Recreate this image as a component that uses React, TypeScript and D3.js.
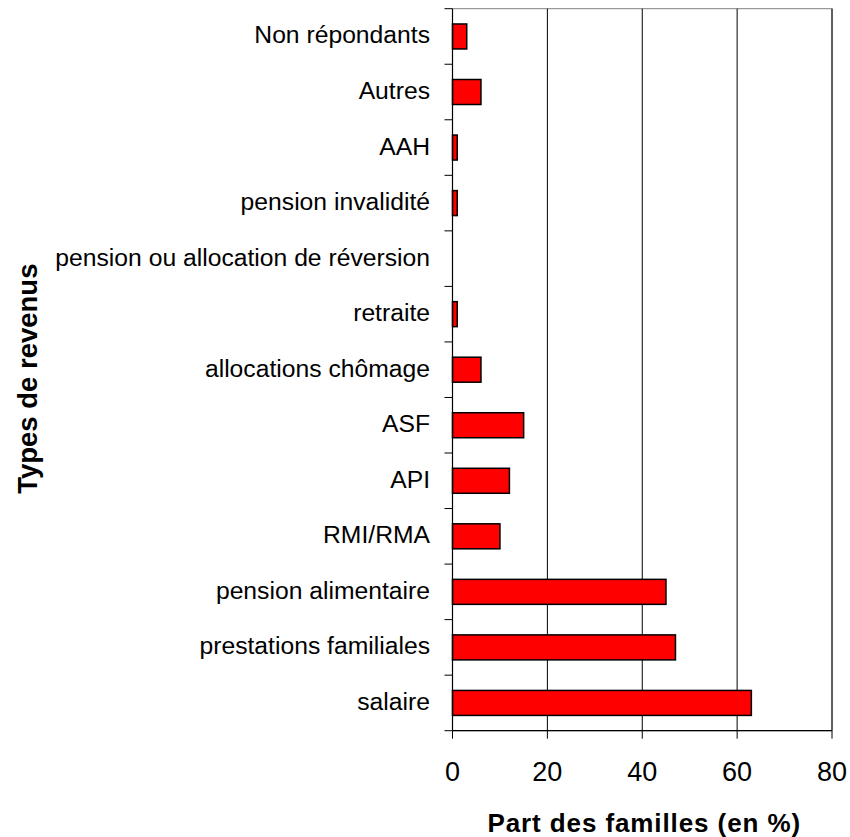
import React from "react";
import * as d3 from "d3";

const categories = [
  "Non répondants",
  "Autres",
  "AAH",
  "pension invalidité",
  "pension ou allocation de réversion",
  "retraite",
  "allocations chômage",
  "ASF",
  "API",
  "RMI/RMA",
  "pension alimentaire",
  "prestations familiales",
  "salaire",
];
const values = [3, 6, 1, 1, 0, 1, 6, 15, 12, 10, 45, 47, 63];
const xTicks = [0, 20, 40, 60, 80];
const xTitle = "Part des familles (en %)";
const yTitle = "Types de revenus";

const W = 850;
const H = 837;
const left = 452.5;
const right = 832;
const top = 8.7;
const bottom = 730.7;
const FONT = "'Liberation Sans', Arial, sans-serif";

export default function App() {
  const x = d3.scaleLinear().domain([0, 80]).range([left, right]);
  const y = d3.scaleBand<string>().domain(categories).range([top, bottom]).padding(0);
  const bw = y.bandwidth();
  const barH = bw * 0.45;
  const boundaries = d3.range(categories.length + 1).map((i) => top + i * y.step());

  return (
    <svg
      width={W}
      height={H}
      style={{ position: "absolute", left: 0, top: 0, display: "block", background: "#fff" }}
      fontFamily={FONT}
    >
      {/* plot border */}
      <rect x={left} y={top} width={right - left} height={bottom - top} fill="none" stroke="#808080" strokeWidth={1} />
      {/* gridlines */}
      {xTicks.filter((t) => t > 0).map((t) => (
        <line key={"g" + t} x1={x(t)} x2={x(t)} y1={top} y2={bottom} stroke="#000" strokeWidth={1} />
      ))}
      {/* bars */}
      {categories.map((c, i) =>
        values[i] > 0 ? (
          <rect
            key={c}
            x={x(0)}
            y={(y(c) as number) + (bw - barH) / 2}
            width={x(values[i]) - x(0)}
            height={barH}
            fill="#FF0000"
            stroke="#000"
            strokeWidth={1.5}
          />
        ) : null
      )}
      {/* y axis */}
      <line x1={left} x2={left} y1={top} y2={bottom} stroke="#000" strokeWidth={1.2} />
      {boundaries.map((b, i) => (
        <line key={"yt" + i} x1={left - 8} x2={left} y1={b} y2={b} stroke="#000" strokeWidth={1} />
      ))}
      {categories.map((c) => (
        <text
          key={"l" + c}
          x={430}
          y={(y(c) as number) + bw / 2 + 7}
          textAnchor="end"
          fontSize={24.7}
          fill="#000"
        >
          {c}
        </text>
      ))}
      {/* x axis */}
      <line x1={left} x2={right} y1={bottom} y2={bottom} stroke="#000" strokeWidth={1.2} />
      {xTicks.map((t) => (
        <g key={"xt" + t}>
          <line x1={x(t)} x2={x(t)} y1={bottom} y2={bottom + 8} stroke="#000" strokeWidth={1} />
          <text x={x(t)} y={780.5} textAnchor="middle" fontSize={27} fill="#000">
            {t}
          </text>
        </g>
      ))}
      {/* titles */}
      <text x={(left + right) / 2 + 2} y={832} textAnchor="middle" fontSize={26} fontWeight="bold" letterSpacing={0.9} fill="#000">
        {xTitle}
      </text>
      <text
        transform={`translate(37, ${(top + bottom) / 2 + 9}) rotate(-90)`}
        textAnchor="middle"
        fontSize={27.5}
        fontWeight="bold"
        fill="#000"
      >
        {yTitle}
      </text>
    </svg>
  );
}
